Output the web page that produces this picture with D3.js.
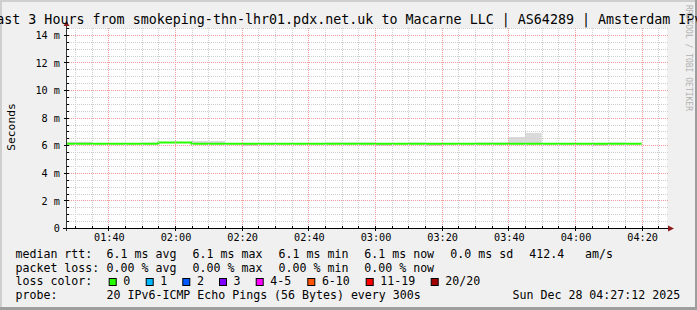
<!DOCTYPE html>
<html><head><meta charset="utf-8">
<script src="https://cdn.jsdelivr.net/npm/d3@7/dist/d3.min.js"></script>
<style>
html,body{margin:0;padding:0;background:#f0f0f0;overflow:hidden;}
svg{display:block;}
text{font-family:"DejaVu Sans Mono",monospace;}
</style></head><body>
<svg id="c" width="697" height="310"></svg>
<script>
// ---------- data ----------
const titleText = "Last 3 Hours from smokeping-thn-lhr01.pdx.net.uk to Macarne LLC | AS64289 | Amsterdam IPv6";
const axisTitle = "Seconds";
const watermark = "RRDTOOL / TOBI OETIKER";
const binStart = ["01:25","01:30","01:35","01:40","01:45","01:50","01:55","02:00","02:05","02:10",
                  "02:15","02:20","02:25","02:30","02:35","02:40","02:45","02:50","02:55","03:00",
                  "03:05","03:10","03:15","03:20","03:25","03:30","03:35","03:40","03:45","03:50",
                  "03:55","04:00","04:05","04:10","04:15"];
const medianRtt = [6.1,6.1,6.1,6.1,6.1,6.1,6.2,6.2,6.1,6.1,
                   6.1,6.1,6.1,6.1,6.1,6.1,6.1,6.1,6.1,6.1,
                   6.1,6.1,6.1,6.1,6.1,6.1,6.1,6.1,6.1,6.1,
                   6.1,6.1,6.1,6.1,6.1];
const smokeLo   = [6.1,6.1,6.1,6.1,6.1,6.1,6.2,6.2,6.1,6.1,
                   6.1,5.95,6.1,6.1,6.1,6.1,6.1,6.1,6.1,5.95,
                   6.1,6.1,5.95,6.1,6.1,6.1,6.1,6.1,6.1,6.1,
                   6.1,6.1,5.95,6.1,6.1];
const smokeHi   = [6.25,6.25,6.1,6.1,6.1,6.2,6.2,6.2,6.3,6.3,
                   6.1,6.1,6.1,6.1,6.1,6.1,6.2,6.2,6.2,6.1,
                   6.1,6.2,6.1,6.1,6.1,6.2,6.2,6.6,6.9,6.1,
                   6.1,6.1,6.1,6.2,6.1];
const lossCount = new Array(35).fill(0);
const yTickValues = [0,2,4,6,8,10,12,14];
const yTickLabels = ["0","2 m","4 m","6 m","8 m","10 m","12 m","14 m"];
const xTickLabels = ["01:40","02:00","02:20","02:40","03:00","03:20","03:40","04:00","04:20"];
const lossBands  = ["0","1","2","3","4-5","6-10","11-19","20/20"];
const lossColors = ["#26ff00","#00b8ff","#0059ff","#7e00ff","#ff00ff","#ff5500","#ff0000","#a10000"];
const rttLegend  = ["median rtt:","6.1 ms avg","6.1 ms max","6.1 ms min","6.1 ms now","0.0 ms sd","412.4","am/s"];
const lossLegend = ["packet loss:","0.00 % avg","0.00 % max","0.00 % min","0.00 % now"];
const probeLegend = ["probe:","20 IPv6-ICMP Echo Pings (56 Bytes) every 300s","Sun Dec 28 04:27:12 2025"];

// ---------- helpers ----------
const svg = d3.select("#c");
const W = 697, H = 310;
const day = (hm, s=0) => { const [h,m] = hm.split(":").map(Number); return new Date(2025,11,28,h,m,s); };
const tStart = day("01:27",36), tEnd = day("04:27",36);
const L = 67, R = 667, T = 28, B = 228;
const x = d3.scaleTime().domain([tStart,tEnd]).range([L,R]);
const y = d3.scaleLinear().domain([0,14.5]).range([B,T]);
const crisp = v => Math.round(v) + 0.5;

// background & 3D border
svg.append("rect").attr("width",W).attr("height",H).attr("fill","#f0f0f0");
svg.append("rect").attr("x",0).attr("y",0).attr("width",W).attr("height",2).attr("fill","#cfcfcf");
svg.append("rect").attr("x",0).attr("y",0).attr("width",2).attr("height",H).attr("fill","#cfcfcf");
svg.append("rect").attr("x",W-2).attr("y",0).attr("width",2).attr("height",H).attr("fill","#9e9e9e");
svg.append("rect").attr("x",0).attr("y",H-3).attr("width",W).attr("height",3).attr("fill","#9e9e9e");

// canvas
svg.append("rect").attr("x",L).attr("y",T).attr("width",R-L).attr("height",B-T).attr("fill","#ffffff");
svg.append("defs").append("clipPath").attr("id","clip")
  .append("rect").attr("x",L).attr("y",T).attr("width",R-L).attr("height",B-T);

// data rows
const rows = binStart.map((s,i) => ({t0: day(s), t1: d3.timeMinute.offset(day(s),5),
  med: medianRtt[i], lo: smokeLo[i], hi: smokeHi[i], loss: lossCount[i]}));

// smoke
const plot = svg.append("g").attr("clip-path","url(#clip)");
plot.selectAll("rect.smoke").data(rows.filter(d => d.hi > d.lo)).enter().append("rect")
  .attr("class","smoke")
  .attr("x", d => x(d.t0)).attr("width", d => x(d.t1) - x(d.t0))
  .attr("y", d => y(d.hi)).attr("height", d => y(d.lo) - y(d.hi))
  .attr("fill","#dadada");

// grid
const grid = svg.append("g");
const minorX = d3.timeMinute.every(5).range(tStart, tEnd).filter(t => t.getMinutes() % 20 !== 0);
const majorX = d3.timeMinute.every(20).range(tStart, tEnd);
const minorY = d3.range(0.5, 14.51, 0.5).filter(v => Math.abs(v % 2) > 0.01);
grid.selectAll("line.mx").data(minorX).enter().append("line")
  .attr("x1", d => crisp(x(d))).attr("x2", d => crisp(x(d))).attr("y1",T).attr("y2",B)
  .attr("stroke","#cfcfcf").attr("stroke-dasharray","1,1");
grid.selectAll("line.my").data(minorY).enter().append("line")
  .attr("y1", d => crisp(y(d))).attr("y2", d => crisp(y(d))).attr("x1",L).attr("x2",R+2)
  .attr("stroke","#cfcfcf").attr("stroke-dasharray","1,1");
grid.selectAll("line.Mx").data(majorX).enter().append("line")
  .attr("x1", d => crisp(x(d))).attr("x2", d => crisp(x(d))).attr("y1",T).attr("y2",B)
  .attr("stroke","#f29c9c").attr("stroke-dasharray","1,1");
grid.selectAll("line.My").data(yTickValues.filter(v => v > 0)).enter().append("line")
  .attr("y1", d => crisp(y(d))).attr("y2", d => crisp(y(d))).attr("x1",L).attr("x2",R+2)
  .attr("stroke","#f29c9c").attr("stroke-dasharray","1,1");

// median line coloured by loss
const bandIdx = n => n===0?0:n===1?1:n===2?2:n===3?3:n<=5?4:n<=10?5:n<=19?6:7;
const pts = rows.map(d => [d.t0, d.med]).concat([[rows[rows.length-1].t1, rows[rows.length-1].med]]);
const line = d3.line().x(d => x(d[0])).y(d => y(d[1])).curve(d3.curveStepAfter);
plot.append("path").attr("d", line(pts)).attr("fill","none")
  .attr("stroke", lossColors[bandIdx(d3.max(lossCount))]).attr("stroke-width",2);

// axes
const ax = svg.append("g");
ax.append("line").attr("x1",L-4).attr("x2",R+3).attr("y1",B+0.5).attr("y2",B+0.5).attr("stroke","#000");
ax.append("line").attr("x1",L-0.5).attr("x2",L-0.5).attr("y1",B+3).attr("y2",T-2).attr("stroke","#333");
ax.selectAll("line.tx").data(minorX).enter().append("line")
  .attr("x1", d => crisp(x(d))).attr("x2", d => crisp(x(d))).attr("y1",B-2).attr("y2",B)
  .attr("stroke","#000");
ax.selectAll("line.tX").data(majorX).enter().append("line")
  .attr("x1", d => crisp(x(d))).attr("x2", d => crisp(x(d))).attr("y1",B-2).attr("y2",B+3)
  .attr("stroke","#000");
ax.selectAll("line.ty").data(minorY).enter().append("line")
  .attr("y1", d => crisp(y(d))).attr("y2", d => crisp(y(d))).attr("x1",L).attr("x2",L+2)
  .attr("stroke","#000");
ax.selectAll("line.tY").data(yTickValues).enter().append("line")
  .attr("y1", d => crisp(y(d))).attr("y2", d => crisp(y(d))).attr("x1",L-3).attr("x2",L+2)
  .attr("stroke","#000");
// arrows
ax.append("path").attr("d",`M${R+7},${B+0.5}L${R+1},${B-2.5}L${R+1},${B+3.5}Z`).attr("fill","#8b1a1a");
ax.append("path").attr("d",`M${L-0.5},${T-7}L${L-3.5},${T-2}L${L+2.5},${T-2}Z`).attr("fill","#8b1a1a");

// y labels via axis
const yAxis = d3.axisLeft(y).tickValues(yTickValues).tickSize(0).tickPadding(0)
  .tickFormat((d,i) => yTickLabels[i]);
const yg = svg.append("g").attr("transform",`translate(${L-7},0)`).call(yAxis);
yg.select(".domain").remove();
yg.selectAll("text").attr("font-family","DejaVu Sans Mono").attr("font-size","10.2px")
  .attr("fill","#000").attr("dy","0.36em");

// x labels via axis
const xAxis = d3.axisBottom(x).tickValues(majorX).tickSize(0).tickPadding(0)
  .tickFormat((d,i) => xTickLabels[i]);
const xg = svg.append("g").attr("transform",`translate(0.5,${B})`).call(xAxis);
xg.select(".domain").remove();
xg.selectAll("text").attr("font-family","DejaVu Sans Mono").attr("font-size","10.2px")
  .attr("fill","#000").attr("dy",null).attr("y",13);

// title
svg.append("text").attr("x",-11.8).attr("y",23.5).attr("font-size","13.33px").attr("fill","#000")
  .text(titleText);

// vertical axis title
svg.append("text").attr("transform","translate(15,127) rotate(-90)").attr("text-anchor","middle")
  .attr("font-family","DejaVu Sans").attr("font-size","11.3px").attr("fill","#000").text(axisTitle);

// watermark
svg.append("text").attr("transform","translate(685.5,5) rotate(90)")
  .attr("font-size","8px").attr("fill","#b0b0b0").text(watermark);

// legend
const lg = svg.append("g").attr("font-size","11.6px").attr("fill","#000");
const rowY = [258, 271.6, 285.3, 299];
const rttX = [15.5, 106.6, 192.6, 278.6, 364.3, 450.3, 529.3, 585];
rttLegend.forEach((s,i) => lg.append("text").attr("x",rttX[i]).attr("y",rowY[0]).text(s));
lossLegend.forEach((s,i) => lg.append("text").attr("x",rttX[i]).attr("y",rowY[1]).text(s));
lg.append("text").attr("x",15.5).attr("y",rowY[2]).text("loss color:");
const boxX = [108.7,145.7,182.3,219,255.7,307.3,365.7,430.7];
lossBands.forEach((s,i) => {
  lg.append("rect").attr("x",boxX[i]+0.5).attr("y",278.5).attr("width",7).attr("height",7)
    .attr("fill",lossColors[i]).attr("stroke","#000").attr("stroke-width",1);
  lg.append("text").attr("x",boxX[i]+14.6).attr("y",rowY[2]).text(s);
});
const probeX = [15.5, 106.6, 512.6];
probeLegend.forEach((s,i) => lg.append("text").attr("x",probeX[i]).attr("y",rowY[3]).text(s));
</script>
</body></html>
